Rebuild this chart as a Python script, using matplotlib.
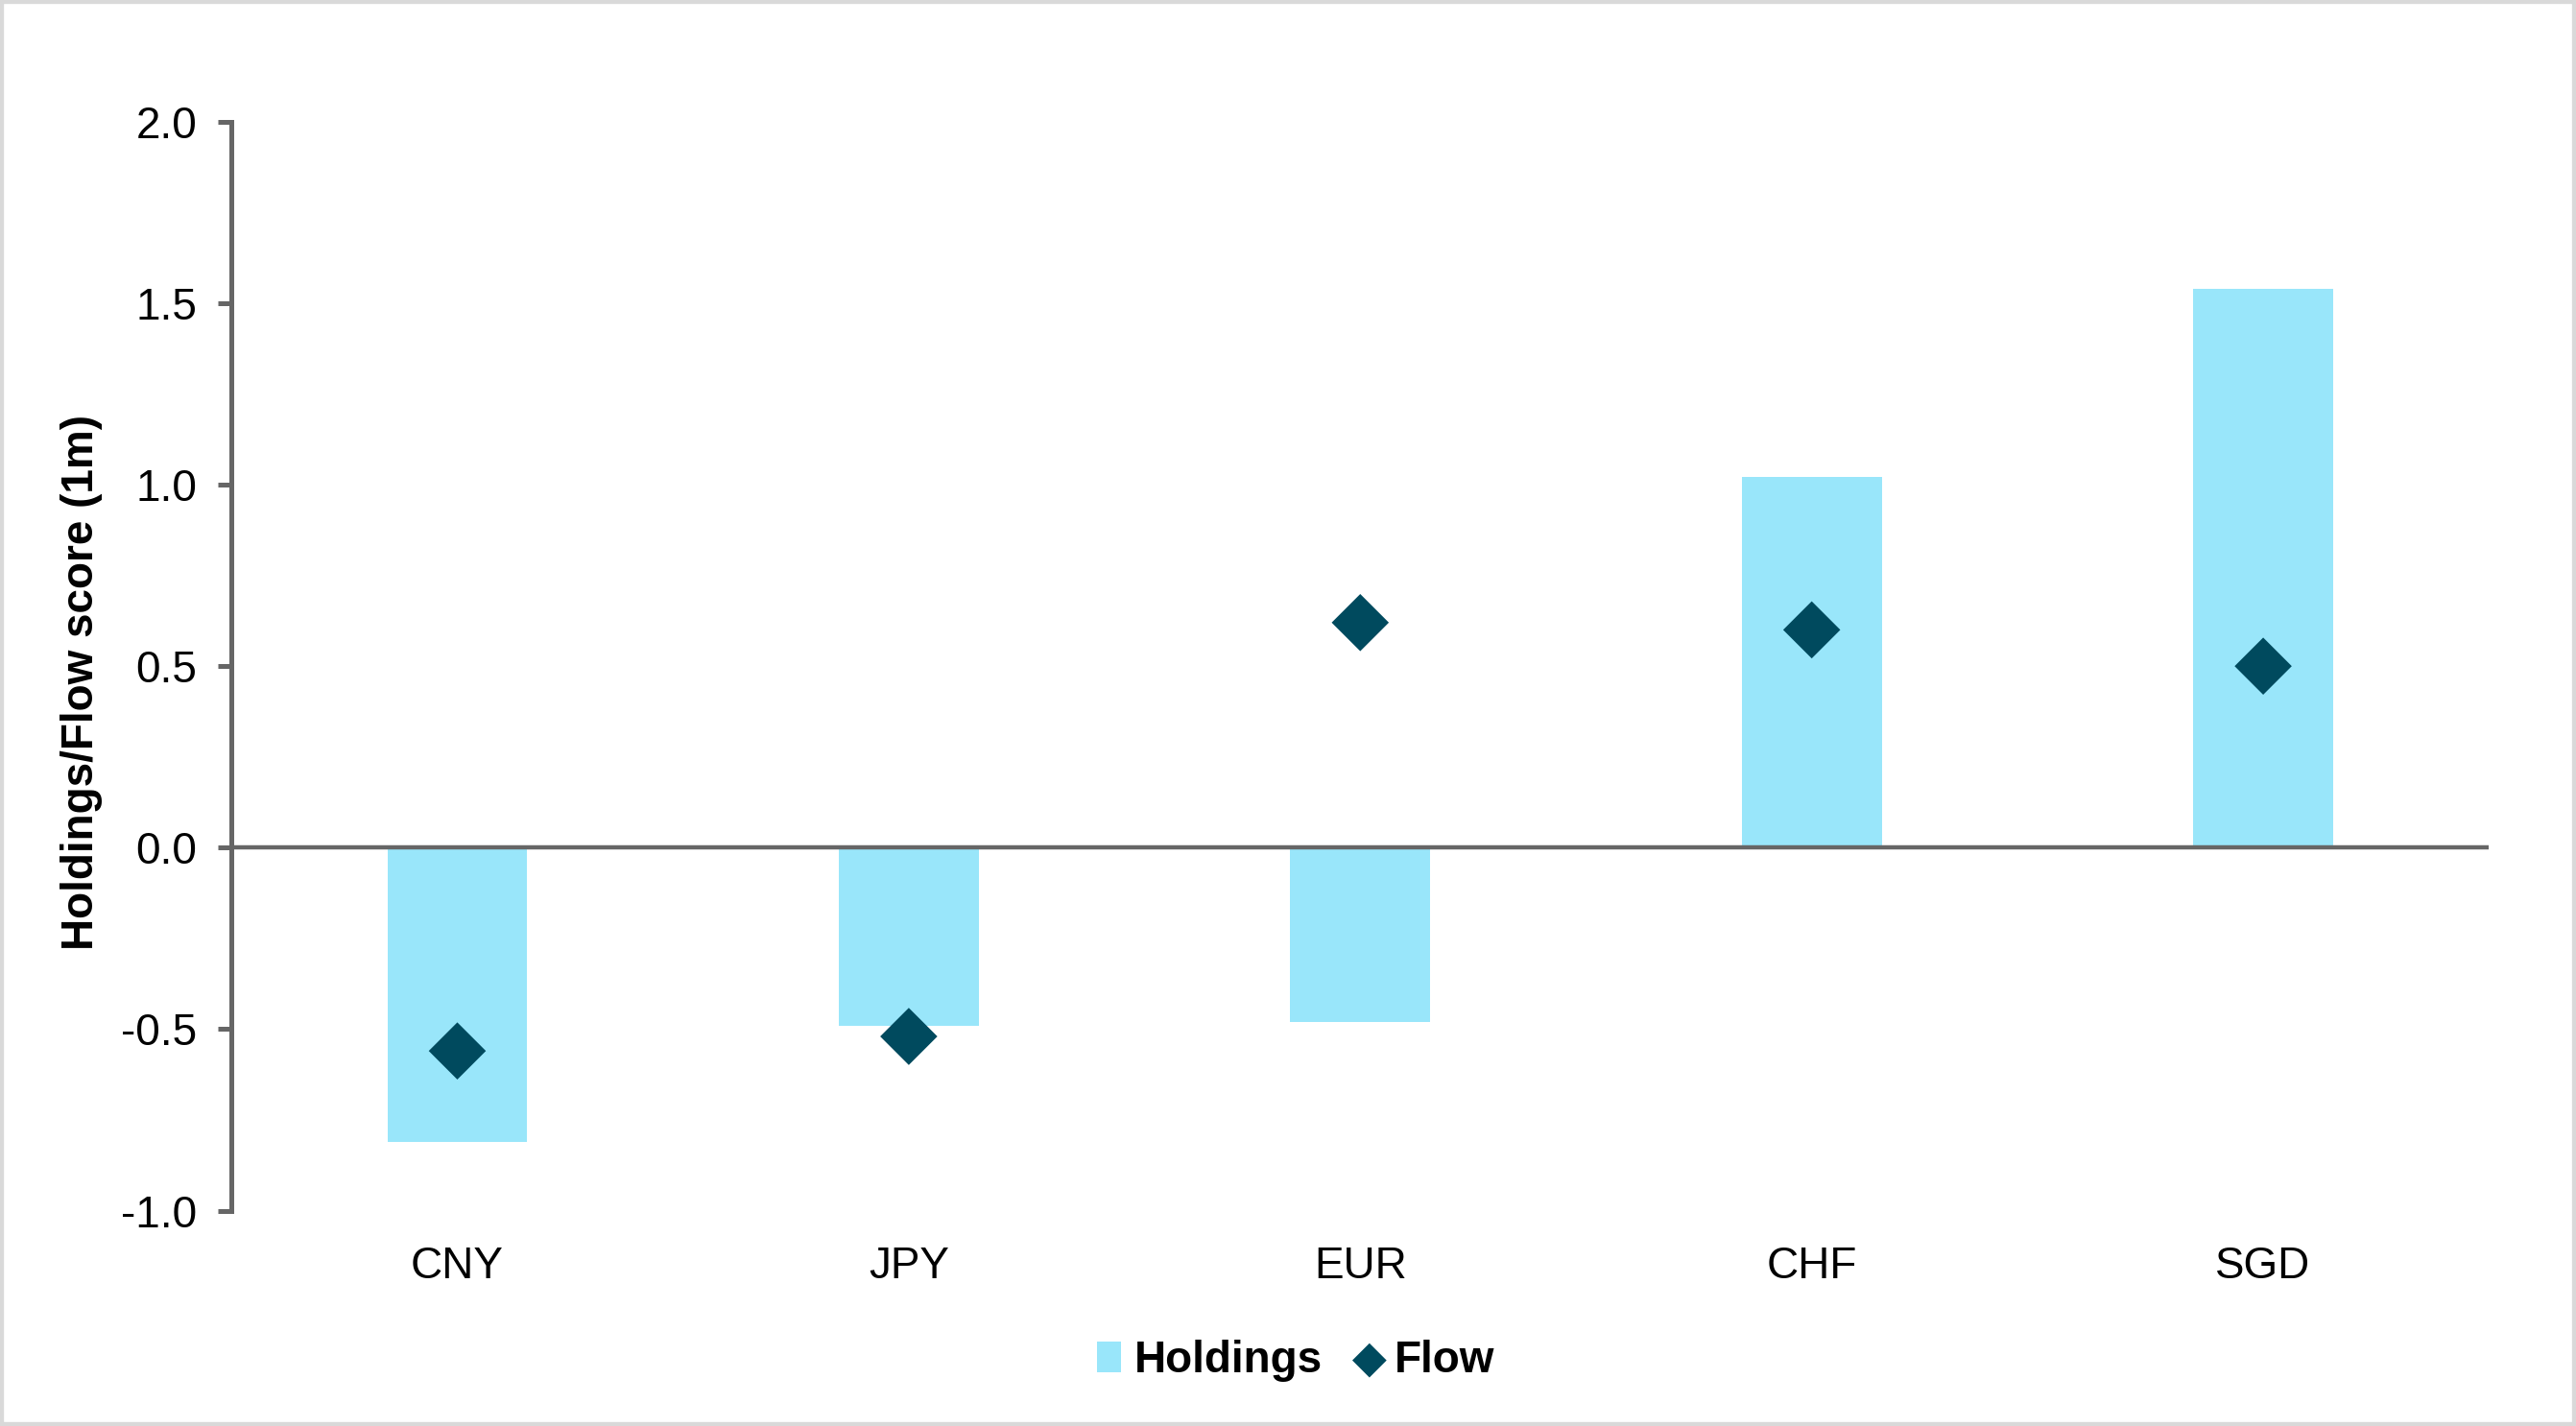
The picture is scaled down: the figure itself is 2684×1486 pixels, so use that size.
import matplotlib.pyplot as plt
from matplotlib.patches import Rectangle

plt.rcParams['font.family'] = ['Liberation Sans', 'DejaVu Sans']

monedas = ['CNY', 'JPY', 'EUR', 'CHF', 'SGD']
holdings = [-0.81, -0.49, -0.48, 1.02, 1.54]
flow = [-0.56, -0.52, 0.62, 0.60, 0.50]
ticks_y = [-1.0, -0.5, 0.0, 0.5, 1.0, 1.5, 2.0]

color_barra = '#99e6fa'
color_flow = '#004a5e'
gris = '#666666'

fig = plt.figure(figsize=(13.42, 7.43), dpi=200)
ax = fig.add_axes([0.0899, 0.151, 0.8763, 0.7637])

x = list(range(len(monedas)))
barras = ax.bar(x, holdings, width=0.31, color=color_barra, label='Holdings', zorder=2)
puntos = ax.scatter(x, flow, marker='D', s=230, color=color_flow, label='Flow', zorder=3,
                    edgecolors='none')

ax.axhline(0, color=gris, linewidth=1.6, zorder=4)

ax.set_xlim(-0.5, 4.5)
ax.set_ylim(-1.0, 2.0)
ax.set_yticks(ticks_y)
ax.set_yticklabels([f'{v:.1f}' for v in ticks_y])
ax.set_xticks(x)
ax.set_xticklabels(monedas)

ax.tick_params(axis='y', labelsize=16.5, length=5, width=1.8, color=gris, pad=8)
ax.tick_params(axis='x', labelsize=16.5, length=0, pad=13)

for lado in ['top', 'right', 'bottom']:
    ax.spines[lado].set_visible(False)
ax.spines['left'].set_color(gris)
ax.spines['left'].set_linewidth(1.8)

ax.set_ylabel('Holdings/Flow score (1m)', fontsize=16.5, fontweight='bold')
ax.yaxis.set_label_coords(-0.057, 0.485)

fig.legend([barras, puntos], ['Holdings', 'Flow'], loc='center',
           bbox_to_anchor=(0.503, 0.046), ncol=2, frameon=False,
           prop={'size': 16.5, 'weight': 'bold'}, handlelength=0.55, handletextpad=0.3,
           columnspacing=0.8, markerscale=0.6)

fig.patches.append(Rectangle((0, 0), 1, 1, transform=fig.transFigure, fill=False,
                             edgecolor='#d9d9d9', linewidth=3, zorder=10))

fig.savefig('out.png', dpi=200)
